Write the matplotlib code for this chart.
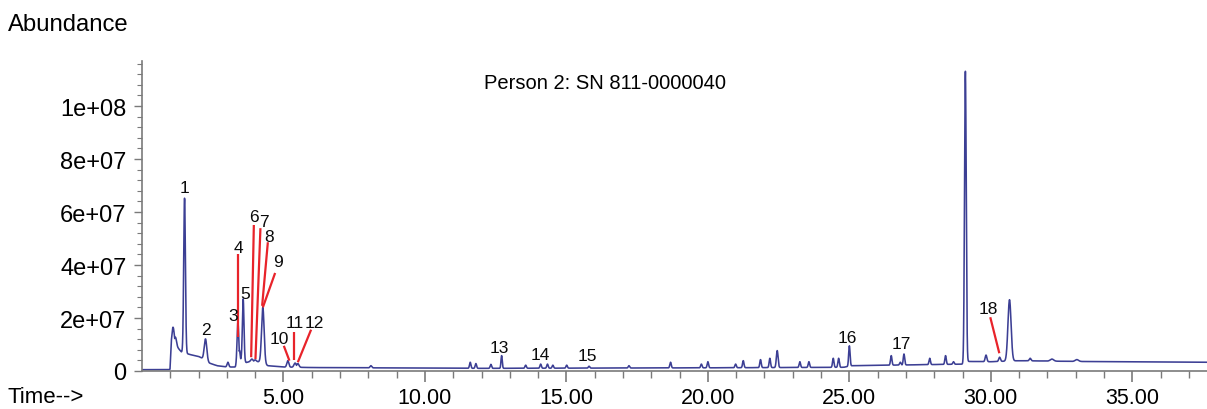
import numpy as np
import matplotlib
matplotlib.use("Agg")
import matplotlib.pyplot as plt

plt.rcParams['font.family'] = ['Liberation Sans', 'DejaVu Sans']

# retention time (min) and apex abundance of each peak in the run
peak_rt = [1.094, 1.186, 1.504, 2.245, 3.036, 3.389, 3.445, 3.576, 3.883, 4.00,
           4.271, 5.154, 5.411, 5.507, 8.09, 11.60, 11.80, 12.33, 12.71, 13.56,
           14.09, 14.33, 14.52, 15.01, 15.80, 17.21, 18.68, 19.77, 20.00, 20.98,
           21.25, 21.86, 22.19, 22.45, 23.25, 23.57, 24.43, 24.62, 25.00, 26.48,
           26.80, 26.93, 27.84, 28.40, 28.68, 29.10, 29.83, 30.31, 30.66, 31.39,
           32.16, 33.04]
peak_apex = [1.65e7, 1.27e7, 6.52e7, 1.21e7, 0.33e7, 1.84e7, 0.77e7, 2.72e7, 0.45e7, 0.42e7,
             2.40e7, 0.39e7, 0.30e7, 0.28e7, 0.20e7, 0.33e7, 0.28e7, 0.25e7, 0.58e7, 0.22e7,
             0.26e7, 0.26e7, 0.22e7, 0.22e7, 0.18e7, 0.20e7, 0.33e7, 0.26e7, 0.35e7, 0.26e7,
             0.39e7, 0.43e7, 0.48e7, 0.77e7, 0.35e7, 0.35e7, 0.48e7, 0.48e7, 0.95e7, 0.58e7,
             0.33e7, 0.64e7, 0.48e7, 0.58e7, 0.35e7, 1.131e8, 0.60e7, 0.52e7, 2.69e7, 0.48e7,
             0.45e7, 0.43e7]
peak_width = [0.04, 0.035, 0.03, 0.045, 0.03, 0.03, 0.02, 0.028, 0.04, 0.04,
              0.045, 0.035, 0.04, 0.04, 0.03, 0.025, 0.025, 0.025, 0.022, 0.025,
              0.025, 0.025, 0.025, 0.025, 0.025, 0.025, 0.025, 0.025, 0.025, 0.025,
              0.025, 0.025, 0.025, 0.03, 0.025, 0.025, 0.025, 0.025, 0.025, 0.025,
              0.025, 0.025, 0.025, 0.025, 0.025, 0.03, 0.03, 0.03, 0.055, 0.03,
              0.06, 0.06]

# baseline (including the solvent front tailing) between peaks
base_rt = [0.0, 0.99, 1.03, 1.14, 1.25, 1.39, 1.7, 2.0, 2.18, 2.38, 2.65, 3.0, 3.3,
           3.5, 3.68, 3.8, 4.15, 4.45, 5.0, 6.0, 12.0, 20.0, 24.8, 25.1, 29.05, 29.2,
           30.0, 31.0, 33.0, 37.7]
base_level = [0.05e7, 0.05e7, 0.9e7, 1.05e7, 0.9e7, 0.72e7, 0.62e7, 0.55e7, 0.45e7, 0.3e7, 0.2e7, 0.15e7, 0.15e7,
              0.45e7, 0.32e7, 0.35e7, 0.35e7, 0.2e7, 0.15e7, 0.13e7, 0.1e7, 0.12e7, 0.14e7, 0.2e7, 0.26e7, 0.36e7,
              0.35e7, 0.39e7, 0.36e7, 0.33e7]

# numbered compounds: label, text position, optional leader line (start, end)
labels = [
    ("1", (1.493, 6.94e7), None),
    ("2", (2.27, 1.55e7), None),
    ("3", (3.233, 2.09e7), None),
    ("4", (3.41, 4.67e7), ((3.41, 4.42e7), (3.41, 1.27e7))),
    ("5", (3.646, 2.94e7), None),
    ("6", (3.94, 5.84e7), ((3.953, 5.51e7), (3.858, 0.52e7))),
    ("7", (4.306, 5.63e7), ((4.186, 5.39e7), (4.01, 0.45e7))),
    ("8", (4.504, 5.08e7), ((4.448, 4.86e7), (4.246, 2.46e7))),
    ("9", (4.80, 4.12e7), ((4.705, 3.70e7), (4.271, 2.40e7))),
    ("10", (4.857, 1.21e7), ((5.012, 0.95e7), (5.21, 0.39e7))),
    ("11", (5.411, 1.84e7), ((5.387, 1.48e7), (5.387, 0.43e7))),
    ("12", (6.09, 1.84e7), ((5.976, 1.56e7), (5.507, 0.33e7))),
    ("13", (12.62, 0.89e7), None),
    ("14", (14.09, 0.64e7), None),
    ("15", (15.74, 0.60e7), None),
    ("16", (24.92, 1.27e7), None),
    ("17", (26.83, 1.02e7), None),
    ("18", (29.92, 2.34e7), ((29.98, 2.03e7), (30.30, 0.67e7))),
]

x_major = [5, 10, 15, 20, 25, 30, 35]
y_major = [0, 2e7, 4e7, 6e7, 8e7, 1e8]
y_major_labels = ["0", "2e+07", "4e+07", "6e+07", "8e+07", "1e+08"]

# build the trace: baseline with each peak laid on top
t = np.union1d(np.linspace(0, 37.7, 40000), peak_rt)
base = np.interp(t, base_rt, base_level)
trace = base.copy()
for rt, apex, w in zip(peak_rt, peak_apex, peak_width):
    b0 = np.interp(rt, base_rt, base_level)
    shape = base + (apex - b0) * np.exp(-0.5 * ((t - rt) / w) ** 2)
    trace = np.maximum(trace, shape)

fig = plt.figure(figsize=(12.07, 4.10), dpi=100)
ax = fig.add_axes([142 / 1207, 38 / 410, 1 - 142 / 1207, 310.3 / 410])

ax.plot(t, trace, color='#3c3f94', lw=1.15)

for txt, (tx, ty), seg in labels:
    ax.text(tx, ty, txt, ha='center', va='center', fontsize=12.5, color='#0a0a0a')
    if seg is not None:
        (x0, y0), (x1, y1) = seg
        ax.plot([x0, x1], [y0, y1], color='#e8232a', lw=1.6, solid_capstyle='butt')

ax.set_xlim(0, 37.64)
ax.set_ylim(0, 1.171e8)

for s in ['top', 'right']:
    ax.spines[s].set_visible(False)
for s in ['left', 'bottom']:
    ax.spines[s].set_color('#7a7a7a')
    ax.spines[s].set_linewidth(1.2)

ax.set_xticks(x_major)
ax.set_xticklabels(["%.2f" % v for v in x_major])
ax.set_xticks(np.arange(1, 38, 1), minor=True)
ax.set_yticks(y_major)
ax.set_yticklabels(y_major_labels)
ax.set_yticks(np.arange(0, 1.17e8, 4e6), minor=True)
ax.tick_params(axis='x', which='major', length=8, width=1.2, color='#7a7a7a',
               labelsize=15.5, pad=3.5)
ax.tick_params(axis='x', which='minor', length=5, width=1.0, color='#7a7a7a')
ax.tick_params(axis='y', which='major', length=6, width=1.0, color='#7a7a7a',
               labelsize=17, pad=5)
ax.tick_params(axis='y', which='minor', length=3.5, width=0.8, color='#7a7a7a')

ax.text(0.435, 0.931, "Person 2: SN 811-0000040", transform=ax.transAxes,
        ha='center', va='center', fontsize=14.5)
fig.text(8 / 1207, 1 - 25 / 410, "Abundance", ha='left', va='center', fontsize=17.2)
fig.text(8 / 1207, 1 - 398 / 410, "Time-->", ha='left', va='center', fontsize=16)

fig.savefig("out.png", dpi=100)
